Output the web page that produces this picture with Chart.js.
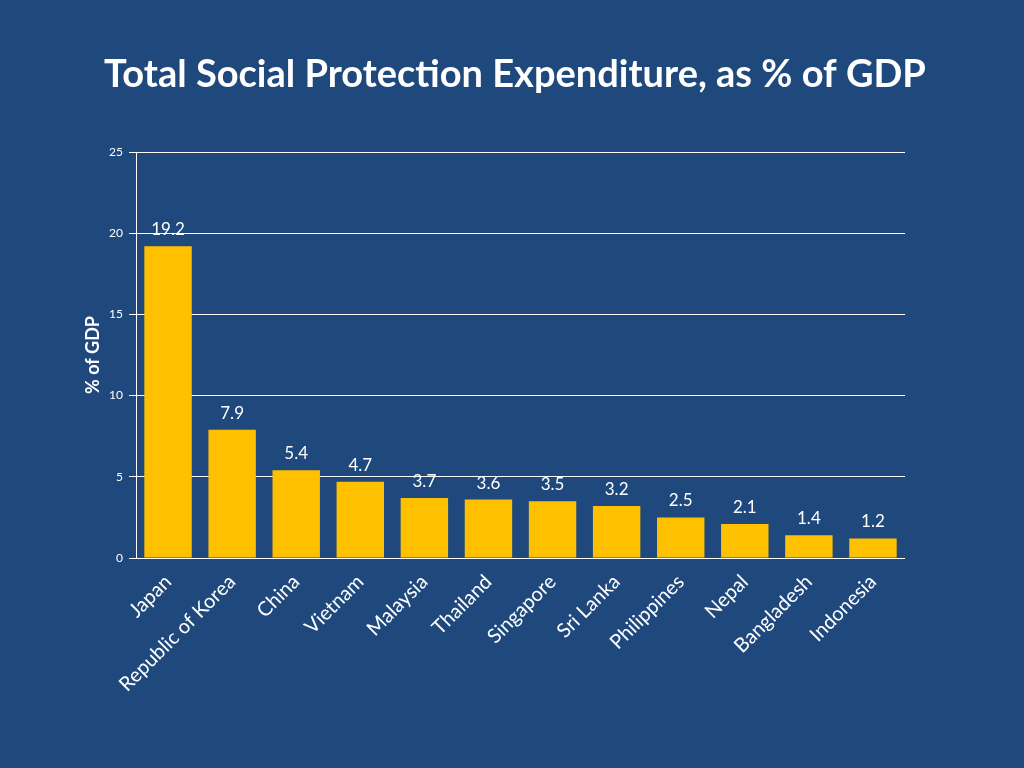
<!DOCTYPE html>
<html>
<head>
<meta charset="utf-8">
<script src="https://cdn.jsdelivr.net/npm/chart.js@4"></script>
<style>
  html, body { margin: 0; padding: 0; background: #1F497D; }
  #wrap { width: 1024px; height: 768px; }
</style>
</head>
<body>
<div id="wrap"><canvas id="myChart" width="1024" height="768"></canvas></div>
<script>
const chartTitle = 'Total Social Protection Expenditure, as % of GDP';
const countries = ['Japan', 'Republic of Korea', 'China', 'Vietnam', 'Malaysia', 'Thailand',
  'Singapore', 'Sri Lanka', 'Philippines', 'Nepal', 'Bangladesh', 'Indonesia'];
const spending = [19.2, 7.9, 5.4, 4.7, 3.7, 3.6, 3.5, 3.2, 2.5, 2.1, 1.4, 1.2];
const yTicks = [0, 5, 10, 15, 20, 25];

// draws the value above each bar
const valueLabels = {
  id: 'valueLabels',
  afterDatasetsDraw(chart) {
    const ctx = chart.ctx;
    const meta = chart.getDatasetMeta(0);
    ctx.save();
    ctx.fillStyle = '#ffffff';
    ctx.font = '17px Lato, "Open Sans", sans-serif';
    ctx.textAlign = 'center';
    ctx.textBaseline = 'bottom';
    meta.data.forEach((bar, i) => {
      ctx.fillText(spending[i].toFixed(1), bar.x, bar.y - 8);
    });
    ctx.restore();
  }
};

// slide title, centred on the page rather than on the plot
const slideTitle = {
  id: 'slideTitle',
  afterDraw(chart) {
    const ctx = chart.ctx;
    ctx.save();
    ctx.fillStyle = '#ffffff';
    ctx.font = 'bold 38px Lato, "Open Sans", sans-serif';
    ctx.textAlign = 'center';
    ctx.textBaseline = 'middle';
    ctx.fillText(chartTitle, 515, 75);
    ctx.restore();
  }
};

const ctx = document.getElementById('myChart').getContext('2d');
new Chart(ctx, {
  type: 'bar',
  data: {
    labels: countries,
    datasets: [{
      label: '% of GDP',
      data: spending,
      backgroundColor: '#FFC000',
      borderWidth: 0,
      barPercentage: 0.74,
      categoryPercentage: 1.0,
    }],
  },
  options: {
    responsive: false,
    animation: false,
    layout: { padding: { left: 82, right: 119, top: 152, bottom: 8 } },
    plugins: {
      legend: { display: false },
      tooltip: { enabled: false },
      title: { display: false },
    },
    scales: {
      x: {
        grid: { display: false },
        border: { display: false },
        ticks: {
          color: '#ffffff',
          font: { family: 'Lato, "Open Sans", sans-serif', size: 20 },
          maxRotation: 45,
          minRotation: 45,
          autoSkip: false,
          padding: 4,
        },
        afterFit: (s) => { s.height = 202; },
      },
      y: {
        min: 0,
        max: 25,
        afterBuildTicks: (s) => { s.ticks = yTicks.map(v => ({ value: v })); },
        grid: { color: '#ffffff', lineWidth: 1, tickLength: 7 },
        border: { color: '#ffffff', width: 1 },
        ticks: {
          color: '#ffffff',
          font: { family: 'Lato, "Open Sans", sans-serif', size: 12 },
          padding: 6,
        },
        title: {
          display: true,
          text: '% of GDP',
          color: '#ffffff',
          font: { family: 'Lato, "Open Sans", sans-serif', size: 18, weight: 'bold' },
          padding: { top: 0, bottom: 6 },
        },
        afterFit: (s) => { s.width = 54; },
      },
    },
  },
  plugins: [valueLabels, slideTitle],
});
</script>
</body>
</html>
